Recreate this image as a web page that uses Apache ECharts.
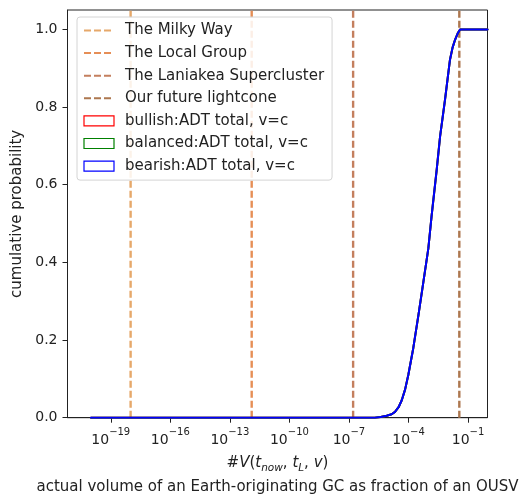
<!DOCTYPE html>
<html><head><meta charset="utf-8">
<script src="https://cdn.jsdelivr.net/npm/echarts@6/dist/echarts.min.js"></script>
<style>html,body{margin:0;padding:0;background:#fff}#c{width:523px;height:504px}</style>
</head><body><div id="c"></div>
<script>
// x values are log10 of #V (fraction of an OUSV)
const logV = [-20, -5.7, -5.4, -5.1, -4.85, -4.68, -4.5, -4.34, -4.17, -4.01, -3.76, -3.50, -3.25, -3.00, -2.84, -2.58, -2.41, -2.16, -1.91, -1.78, -1.65, -1.52, -1.40, -0.02];
// cumulative probability (the three scenarios coincide in the picture)
const bullishProb  = [0, 0, 0.002, 0.005, 0.009, 0.015, 0.027, 0.045, 0.073, 0.110, 0.179, 0.264, 0.350, 0.436, 0.518, 0.638, 0.724, 0.819, 0.922, 0.953, 0.974, 0.990, 1.0, 1.0];
const balancedProb = bullishProb.slice();
const bearishProb  = bullishProb.slice();

const refNames = ['The Milky Way', 'The Local Group', 'The Laniakea Supercluster', 'Our future lightcone'];
const refLogV = [-18, -11.9, -6.79, -1.44];
const refColors = ['#e6a86a', '#e68e56', '#c47f5e', '#ad774f'];

const scenarioNames = ['bullish:ADT total, v=c', 'balanced:ADT total, v=c', 'bearish:ADT total, v=c'];
const scenarioColors = ['#ff0000', '#008000', '#0000ff'];
const scenarioData = [bullishProb, balancedProb, bearishProb];

const xTicks = [-19, -16, -13, -10, -7, -4, -1];
const yTicks = [0, 0.2, 0.4, 0.6, 0.8, 1.0];

const FONT = 'DejaVu Sans';
const chart = echarts.init(document.getElementById('c'), null, {renderer: 'canvas'});

const series = [];
refNames.forEach((n, i) => {
  series.push({
    name: n, type: 'line', symbol: 'none', silent: true, z: 1,
    lineStyle: {color: refColors[i], width: 2.4, type: [7, 3]},
    itemStyle: {color: refColors[i]},
    data: [[refLogV[i], 0], [refLogV[i], 1.05]]
  });
});
scenarioNames.forEach((n, i) => {
  series.push({
    name: n, type: 'line', symbol: 'none', silent: true, z: 3 + i,
    smooth: false,
    lineStyle: {color: scenarioColors[i], width: 2, join: 'round', cap: 'round'},
    itemStyle: {color: scenarioColors[i]},
    data: logV.map((x, k) => [x, scenarioData[i][k]])
  });
});

const legendData = refNames.map(n => ({name: n, itemStyle: {opacity: 0}})).concat(
  scenarioNames.map((n, i) => ({
    name: n, icon: 'rect',
    itemStyle: {color: 'rgba(0,0,0,0)', borderColor: scenarioColors[i], borderWidth: 1.2}
  }))
);

chart.setOption({
  animation: false,
  backgroundColor: '#fff',
  textStyle: {fontFamily: FONT},
  grid: {left: 67.5, right: 35.5, top: 10, bottom: 86.3, show: true, borderColor: '#222', borderWidth: 1, backgroundColor: 'transparent'},
  legend: {
    orient: 'vertical', left: 77, top: 17,
    itemWidth: 30, itemHeight: 10, itemGap: 6.6,
    padding: [5.5, 8, 6, 6],
    backgroundColor: 'rgba(255,255,255,0.85)',
    borderColor: '#d4d4d4', borderWidth: 1, borderRadius: 3,
    textStyle: {fontFamily: FONT, fontSize: 15, color: '#222', lineHeight: 16, padding: [0, 0, 0, 6]},
    data: legendData
  },
  xAxis: {
    type: 'value', min: -21.18, max: -0.02,
    splitLine: {show: false},
    axisLine: {show: true, onZero: false, lineStyle: {color: '#222', width: 1}},
    axisTick: {show: true, length: 5, customValues: xTicks, lineStyle: {color: '#222', width: 1}},
    axisLabel: {
      customValues: xTicks, margin: 10,
      formatter: v => '{b|10}{e|\u2212' + Math.abs(Math.round(v)) + '}',
      rich: {
        b: {fontFamily: FONT, fontSize: 14, color: '#222', lineHeight: 20, verticalAlign: 'bottom'},
        e: {fontFamily: FONT, fontSize: 10, color: '#222', lineHeight: 12, verticalAlign: 'top'}
      }
    },
    name: '{r|#}{i|V}{r|(}{i|t}{s|now}{r|, }{i|t}{s|L}{r|, }{i|v}{r|)}\n{l|actual volume of an Earth-originating GC as fraction of an OUSV}',
    nameLocation: 'middle', nameGap: 38,
    nameTextStyle: {
      fontFamily: FONT, color: '#222',
      rich: {
        r: {fontFamily: FONT, fontSize: 15, color: '#222', lineHeight: 18, verticalAlign: 'top'},
        i: {fontFamily: FONT, fontSize: 15, fontStyle: 'italic', color: '#222', lineHeight: 18, verticalAlign: 'top'},
        s: {fontFamily: FONT, fontSize: 10.5, fontStyle: 'italic', color: '#222', lineHeight: 14, verticalAlign: 'bottom'},
        l: {fontFamily: FONT, fontSize: 15, color: '#222', lineHeight: 21, verticalAlign: 'bottom'}
      }
    }
  },
  yAxis: {
    type: 'value', min: 0, max: 1.05,
    splitLine: {show: false},
    axisLine: {show: true, lineStyle: {color: '#222', width: 1}},
    axisTick: {show: true, length: 5, customValues: yTicks, lineStyle: {color: '#222', width: 1}},
    axisLabel: {customValues: yTicks, margin: 10, fontFamily: FONT, fontSize: 14, color: '#222', formatter: v => v.toFixed(1)},
    name: 'cumulative probability', nameLocation: 'middle', nameGap: 40, nameRotate: 90,
    nameTextStyle: {fontFamily: FONT, fontSize: 15, color: '#222'}
  },
  series: series
});
</script></body></html>
